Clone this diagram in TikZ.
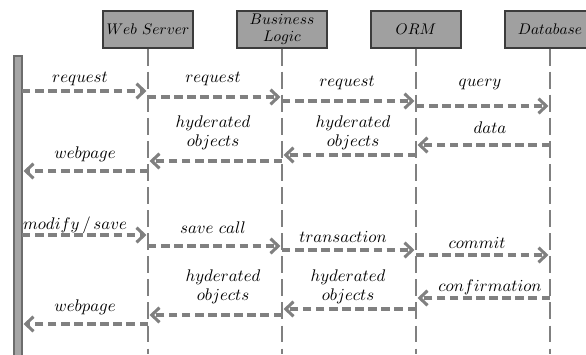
\documentclass[tikz,border=0pt]{standalone}
\usepackage{tikz}
\usetikzlibrary{positioning, calc, arrows.meta}
\definecolor{linegray}{RGB}{128, 128, 128}
\definecolor{boxgray}{RGB}{160, 160, 160}
\definecolor{edgegray}{RGB}{60, 60, 60}

\begin{document}
\begin{tikzpicture}[
    x=0.65pt, y=-0.65pt,
    partbox/.style={draw=edgegray, thick, fill=boxgray, align=center, minimum width=58.5pt, minimum height=24pt, inner sep=1pt, font=\fontsize{9.8pt}{11pt}\selectfont},
    lifeline/.style={linegray, line width=1.6pt, dash pattern=on 11pt off 4pt},
    msg/.style={-{Straight Barb[length=5pt, width=9.5pt]}, linegray, line width=2pt, dash pattern=on 5.5pt off 3pt, shorten >=1pt},
    lbl/.style={align=center, text=black, inner sep=0pt, font=\fontsize{10.5pt}{12.5pt}\selectfont}
]
    \clip (0,0) rectangle (586,354);

    % participants
    \node[partbox] (web) at (148,29.5) {$Web\ Server$};
    \node[partbox] (logic) at (282,29.5) {$Business$\\$Logic$};
    \node[partbox] (orm) at (416,29.5) {$ORM$};
    \node[partbox] (db) at (550,29.5) {$Database$};
    \coordinate (bottom) at (0,354);

    % caller bar
    \draw[edgegray!75, fill=linegray!70, line width=0.7pt] (14,56) rectangle (22,360);
    \coordinate (user) at (22,56);

    % lifelines
    \draw[lifeline] (web.south) -- (web |- bottom);
    \draw[lifeline] (logic.south) -- (logic |- bottom);
    \draw[lifeline] (orm.south) -- (orm |- bottom);
    \draw[lifeline] (db.south) -- (db |- bottom);

    % first request
    \draw[msg] (user |- 0,91) -- (web |- 0,91) node[lbl] at (80,79) {$request$};
    \draw[msg] (web |- 0,97) -- (logic |- 0,97) node[lbl] at (213,79) {$request$};
    \draw[msg] (logic |- 0,101) -- (orm |- 0,101) node[lbl] at (347,83) {$request$};
    \draw[msg] (orm |- 0,106) -- (db |- 0,106) node[lbl] at (480,85) {$query$};
    \draw[msg] (db |- 0,145) -- (orm |- 0,145) node[lbl] at (490,128) {$data$};
    \draw[msg] (orm |- 0,155) -- (logic |- 0,155) node[lbl] at (353,133) {$hyderated$\\$objects$};
    \draw[msg] (logic |- 0,161) -- (web |- 0,161) node[lbl] at (213,133) {$hyderated$\\$objects$};
    \draw[msg] (web |- 0,171) -- (user |- 0,171) node[lbl] at (85,154) {$webpage$};

    % save
    \draw[msg] (user |- 0,235) -- (web |- 0,235) node[lbl] at (75,225) {$modify\,/\,save$};
    \draw[msg] (web |- 0,246) -- (logic |- 0,246) node[lbl] at (213,228) {$save\ call$};
    \draw[msg] (logic |- 0,250) -- (orm |- 0,250) node[lbl] at (343,237) {$transaction$};
    \draw[msg] (orm |- 0,255) -- (db |- 0,255) node[lbl] at (477,243) {$commit$};
    \draw[msg] (db |- 0,298) -- (orm |- 0,298) node[lbl] at (490,287) {$confirmation$};
    \draw[msg] (orm |- 0,309) -- (logic |- 0,309) node[lbl] at (348,287) {$hyderated$\\$objects$};
    \draw[msg] (logic |- 0,315) -- (web |- 0,315) node[lbl] at (223,287) {$hyderated$\\$objects$};
    \draw[msg] (web |- 0,324) -- (user |- 0,324) node[lbl] at (85,307) {$webpage$};
\end{tikzpicture}
\end{document}
